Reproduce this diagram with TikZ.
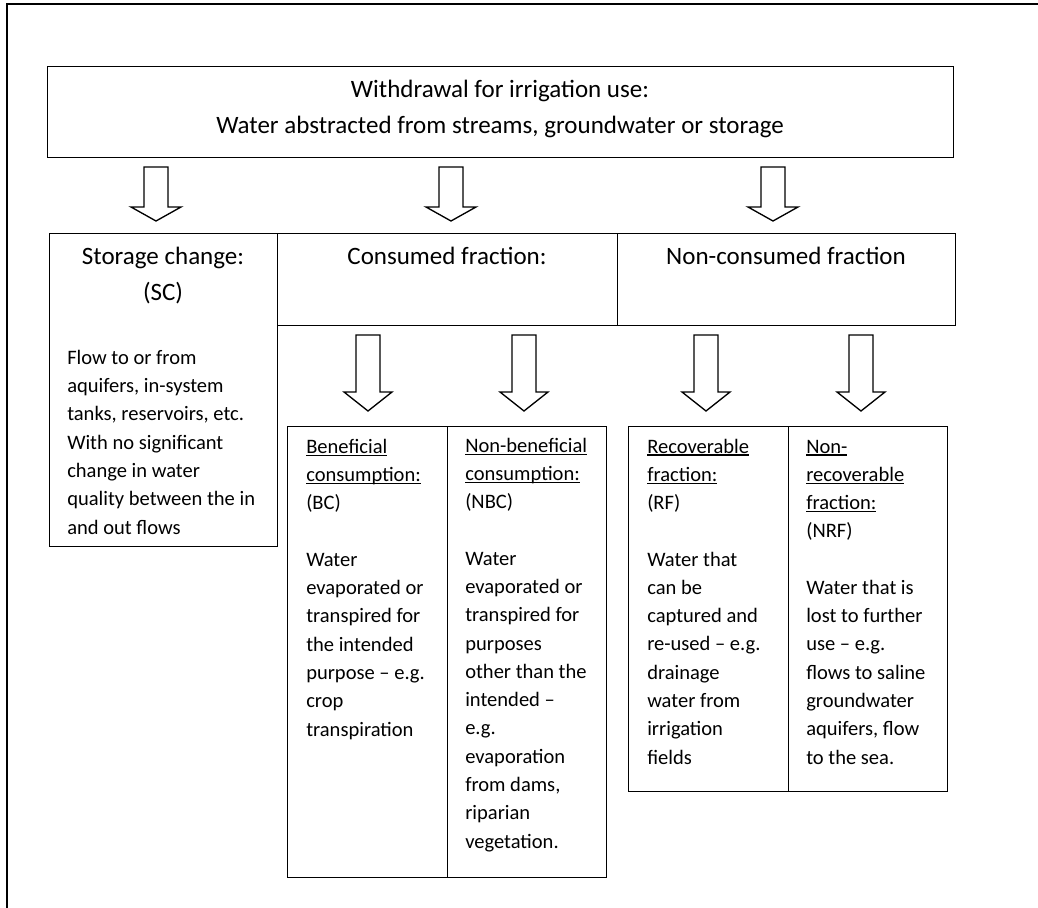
\documentclass[tikz,border=0pt]{standalone}
\usepackage{fontspec}
\setmainfont{Carlito}
\usetikzlibrary{positioning}
\def\pxu{0.75pt}
\newcommand\headul[1]{\setbox0\hbox{#1}\rlap{\rule[-1.9pt]{\wd0}{0.9pt}}#1}

\begin{document}
\begin{tikzpicture}[x=0.75pt,y=-0.75pt,
  box/.style={draw,rectangle,inner sep=0pt,anchor=north west,line width=1pt},
  title/.style={font=\fontsize{18.75}{27}\selectfont,align=center,inner sep=0pt,anchor=base},
  body/.style={font=\fontsize{15.4}{21.2}\selectfont,align=left,inner sep=0pt,anchor=base west},
  hollow/.style={draw,line width=1pt,fill=white,line join=miter}]
\useasboundingbox (0,0) rectangle (1038,907);
\draw[line width=1.5pt] (1045,4) -- (7,4) -- (7,915);

% boxes
\node[box,minimum width=906*\pxu,minimum height=91*\pxu] (withdraw) at (47,66) {};
\node[box,minimum width=228*\pxu,minimum height=313*\pxu] (sc) at (49,233) {};
\node[box,minimum width=340*\pxu,minimum height=92*\pxu] (cf) at (277,233) {};
\node[box,minimum width=338*\pxu,minimum height=92*\pxu] (ncf) at (617,233) {};
\node[box,minimum width=160*\pxu,minimum height=451*\pxu] (bc) at (287,426) {};
\node[box,minimum width=159*\pxu,minimum height=451*\pxu] (nbc) at (447,426) {};
\node[box,minimum width=160*\pxu,minimum height=365*\pxu] (rf) at (628,426) {};
\node[box,minimum width=159*\pxu,minimum height=365*\pxu] (nrf) at (788,426) {};

% titles (anchored at the baseline of the last line)
\node[title] (withdrawtxt) at (500,133) {Withdrawal for irrigation use:\\Water abstracted from streams, groundwater or storage};
\node[title] (sctitle) at (163,300) {Storage change:\\(SC)};
\node[title] (cftitle) at (447,264) {Consumed fraction:};
\node[title] (ncftitle) at (786,264) {Non-consumed fraction};

% texts
\node[body] (sctxt) at (67,534) {Flow to or from\\aquifers, in-system\\tanks, reservoirs, etc.\\With no significant\\change in water\\quality between the in\\and out flows};
\node[body] (bctxt) at (306,736) {\headul{Beneficial}\\\headul{consumption:}\\(BC)\\[21.2pt]Water\\evaporated or\\transpired for\\the intended\\purpose -- e.g.\\crop\\transpiration};
\node[body] (nbctxt) at (465,848) {\headul{Non-beneficial}\\\headul{consumption:}\\(NBC)\\[21.2pt]Water\\evaporated or\\transpired for\\purposes\\other than the\\intended --\\e.g.\\evaporation\\from dams,\\riparian\\vegetation.};
\node[body] (rftxt) at (647,764) {\headul{Recoverable}\\\headul{fraction:}\\(RF)\\[21.2pt]Water that\\can be\\captured and\\re-used -- e.g.\\drainage\\water from\\irrigation\\fields};
\node[body] (nrftxt) at (806,764) {\headul{Non-}\\\headul{recoverable}\\\headul{fraction:}\\(NRF)\\[21.2pt]Water that is\\lost to further\\use -- e.g.\\flows to saline\\groundwater\\aquifers, flow\\to the sea.};

% arrows
\foreach \cx in {156,451,773}
  \draw[hollow] (\cx-12,167) -- (\cx+12,167) -- (\cx+12,207) -- (\cx+25,207) -- (\cx,221) -- (\cx-25,207) -- (\cx-12,207) -- cycle;
\foreach \cx in {368,524,706,861}
  \draw[hollow] (\cx-12,335) -- (\cx+12,335) -- (\cx+12,392) -- (\cx+24,392) -- (\cx,411) -- (\cx-24,392) -- (\cx-12,392) -- cycle;
\end{tikzpicture}
\end{document}
